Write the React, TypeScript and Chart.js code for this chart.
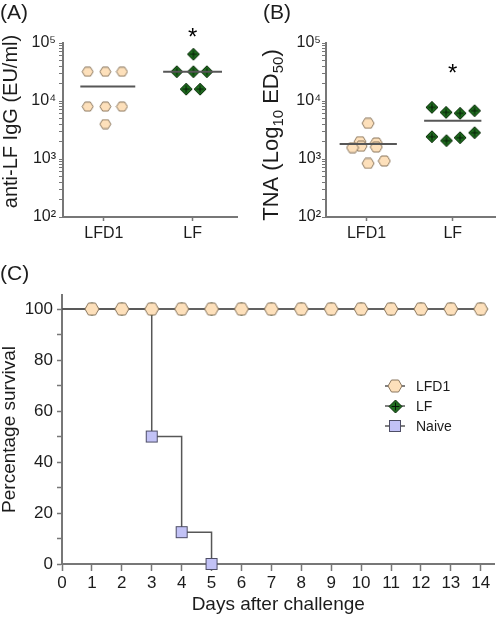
import { useEffect, useRef } from "react";
import { Chart, registerables } from "chart.js";

Chart.register(...registerables);

// ---------------- data ----------------
const groupLabels = ["LFD1", "LF"];
const groupPos = [1, 2];

// Panel A: anti-LF IgG (EU/ml)
const igLfd1X = [0.818, 1.017, 1.204, 0.818, 1.017, 1.204, 1.017];
const igLfd1Y = [32000, 32000, 32000, 8000, 8000, 8000, 4000];
const igLfX = [2.009, 1.822, 2.009, 2.16, 1.927, 2.084];
const igLfY = [64000, 32000, 32000, 32000, 16000, 16000];
const igMeans = [17700, 32000];
const igMeanSpan = [
  [0.735, 1.354],
  [1.668, 2.331],
];
const igStar = { x: 2, y: 160000 };

// Panel B: TNA (Log10 ED50)
const tnaLfd1X = [1.018, 0.925, 0.936, 0.838, 1.113, 1.113, 1.018, 1.206];
const tnaLfd1Y = [4130, 1990, 1660, 1570, 1890, 1610, 840, 925];
const tnaLfX = [1.758, 1.923, 2.085, 2.253, 1.758, 1.927, 2.085, 2.253];
const tnaLfY = [7780, 6380, 6140, 6800, 2420, 2070, 2330, 2840];
const tnaMeans = [1815, 4570];
const tnaMeanSpan = [
  [0.688, 1.352],
  [1.668, 2.332],
];
const tnaStar = { x: 2, y: 38500 };

const logDecades = [100, 1000, 10000, 100000];
const SUP: Record<number, string> = { 2: "\u00b2", 3: "\u00b3", 4: "\u2074", 5: "\u2075" };

// Panel C: survival
const days = [0, 1, 2, 3, 4, 5, 6, 7, 8, 9, 10, 11, 12, 13, 14];
const lfd1Survival = [100, 100, 100, 100, 100, 100, 100, 100, 100, 100, 100, 100, 100, 100, 100];
const lfSurvival = [100, 100, 100, 100, 100, 100, 100, 100, 100, 100, 100, 100, 100, 100, 100];
const naiveDays = [0, 3, 4, 5];
const naiveSurvival = [100, 50, 12.5, 0];
const survivalTicks = [0, 10, 20, 30, 40, 50, 60, 70, 80, 90, 100];
const seriesNames = ["LFD1", "LF", "Naive"];

// ---------------- styles ----------------
const FONT = "'Liberation Sans', Arial, Helvetica, sans-serif";
const TEXT = "#1c1c1c";
const AXIS = "#777777";
const LINE = "#575757";
const HEX_FILL = "#fde0bb";
const HEX_EDGE = "#8a775f";
const DIA_FILL = "#1f6d1f";
const DIA_EDGE = "#0b2b0b";
const SQ_FILL = "#c2c2f6";
const SQ_EDGE = "#4e4e66";

function hexMarker(w: number, h: number) {
  const c = document.createElement("canvas");
  c.width = w + 2;
  c.height = h + 2;
  const g = c.getContext("2d")!;
  const cx = c.width / 2,
    cy = c.height / 2;
  g.beginPath();
  g.moveTo(cx - w / 2, cy);
  g.lineTo(cx - w / 4, cy - h / 2);
  g.lineTo(cx + w / 4, cy - h / 2);
  g.lineTo(cx + w / 2, cy);
  g.lineTo(cx + w / 4, cy + h / 2);
  g.lineTo(cx - w / 4, cy + h / 2);
  g.closePath();
  g.fillStyle = HEX_FILL;
  g.fill();
  g.strokeStyle = HEX_EDGE;
  g.lineWidth = 1;
  g.stroke();
  return c;
}

function diamondMarker(s: number) {
  const c = document.createElement("canvas");
  c.width = s + 2;
  c.height = s + 2;
  const g = c.getContext("2d")!;
  const cx = c.width / 2,
    cy = c.height / 2;
  g.beginPath();
  g.moveTo(cx, cy - s / 2);
  g.lineTo(cx + s / 2, cy);
  g.lineTo(cx, cy + s / 2);
  g.lineTo(cx - s / 2, cy);
  g.closePath();
  g.fillStyle = DIA_FILL;
  g.fill();
  g.strokeStyle = DIA_EDGE;
  g.lineWidth = 1;
  g.stroke();
  g.beginPath();
  g.moveTo(cx - s * 0.3, cy);
  g.lineTo(cx + s * 0.3, cy);
  g.moveTo(cx, cy - s * 0.3);
  g.lineTo(cx, cy + s * 0.3);
  g.strokeStyle = "#061806";
  g.stroke();
  return c;
}

function squareMarker(s: number) {
  const c = document.createElement("canvas");
  c.width = s + 2;
  c.height = s + 2;
  const g = c.getContext("2d")!;
  g.fillStyle = SQ_FILL;
  g.fillRect(1, 1, s, s);
  g.strokeStyle = SQ_EDGE;
  g.lineWidth = 1;
  g.strokeRect(1.5, 1.5, s - 1, s - 1);
  return c;
}

type Part = [string, number, number];
function yTitlePlugin(id: string, parts: Part[], baseX: number, centerY: number) {
  return {
    id,
    afterDraw(chart: any) {
      const ctx = chart.ctx as CanvasRenderingContext2D;
      ctx.save();
      ctx.fillStyle = TEXT;
      ctx.textBaseline = "alphabetic";
      ctx.textAlign = "left";
      let total = 0;
      for (const [t, sz] of parts) {
        ctx.font = `${sz}px ${FONT}`;
        total += ctx.measureText(t).width;
      }
      ctx.translate(baseX, centerY);
      ctx.rotate(-Math.PI / 2);
      let x = -total / 2;
      for (const [t, sz, dy] of parts) {
        ctx.font = `${sz}px ${FONT}`;
        ctx.fillText(t, x, dy);
        x += ctx.measureText(t).width;
      }
      ctx.restore();
    },
  };
}

function starPlugin(id: string, star: { x: number; y: number }) {
  return {
    id,
    afterDatasetsDraw(chart: any) {
      const ctx = chart.ctx as CanvasRenderingContext2D;
      const px = chart.scales.x.getPixelForValue(star.x);
      const py = chart.scales.y.getPixelForValue(star.y);
      ctx.save();
      ctx.fillStyle = "#000";
      ctx.font = `24px ${FONT}`;
      ctx.textAlign = "center";
      ctx.textBaseline = "alphabetic";
      ctx.fillText("*", px, py + 14);
      ctx.restore();
    },
  };
}

function logTicks() {
  const out: { value: number; major: boolean }[] = [];
  for (let i = 0; i < logDecades.length; i++) {
    const d = logDecades[i];
    out.push({ value: d, major: true });
    if (i < logDecades.length - 1) {
      for (let m = 2; m <= 9; m++) out.push({ value: d * m, major: false });
    }
  }
  return out;
}

function dotPanelConfig(opts: {
  lfd1X: number[];
  lfd1Y: number[];
  lfX: number[];
  lfY: number[];
  means: number[];
  spans: number[][];
  xMin: number;
  xMax: number;
  yWidth: number;
  padRight: number;
  tickPad: number;
  hex: HTMLCanvasElement;
  dia: HTMLCanvasElement;
  plugins: any[];
}) {
  const meanSets = opts.means.map((m, i) => ({
    type: "line",
    data: [
      { x: opts.spans[i][0], y: m },
      { x: opts.spans[i][1], y: m },
    ],
    borderColor: LINE,
    borderWidth: 2,
    pointRadius: 0,
    showLine: true,
  }));
  return {
    type: "scatter",
    data: {
      datasets: [
        ...meanSets,
        {
          data: opts.lfX.map((x, i) => ({ x, y: opts.lfY[i] })),
          pointStyle: opts.dia,
          pointRadius: 6,
          showLine: false,
        },
        {
          data: opts.lfd1X.map((x, i) => ({ x, y: opts.lfd1Y[i] })),
          pointStyle: opts.hex,
          pointRadius: 5,
          showLine: false,
        },
      ],
    },
    options: {
      responsive: false,
      animation: false,
      events: [],
      layout: { padding: { top: 43, right: opts.padRight, left: 0, bottom: 0 } },
      plugins: { legend: { display: false }, tooltip: { enabled: false } },
      scales: {
        x: {
          type: "linear",
          min: opts.xMin,
          max: opts.xMax,
          afterBuildTicks: (s: any) => {
            s.ticks = groupPos.map((v) => ({ value: v }));
          },
          afterFit: (s: any) => {
            s.height = 33;
          },
          ticks: {
            callback: (v: any) => {
              const i = groupPos.indexOf(Number(v));
              return i >= 0 ? groupLabels[i] : "";
            },
            font: { family: FONT, size: 16 },
            color: TEXT,
            padding: 3,
            autoSkip: false,
            maxRotation: 0,
          },
          grid: { display: true, drawOnChartArea: false, drawTicks: true, tickLength: 4, color: AXIS, tickWidth: 1.5 },
          border: { display: true, color: AXIS, width: 2 },
        },
        y: {
          type: "logarithmic",
          min: 100,
          max: 100000,
          afterBuildTicks: (s: any) => {
            s.ticks = logTicks();
          },
          afterFit: (s: any) => {
            s.width = opts.yWidth;
          },
          ticks: {
            callback: (v: any) => {
              const e = Math.log10(Number(v));
              const r = Math.round(e);
              if (Math.abs(e - r) < 1e-6) return "10" + SUP[r];
              return "";
            },
            font: { family: FONT, size: 16 },
            color: TEXT,
            padding: opts.tickPad,
            autoSkip: false,
          },
          grid: { display: true, drawOnChartArea: false, drawTicks: true, tickLength: 4, color: AXIS, tickWidth: 1 },
          border: { display: true, color: AXIS, width: 2 },
        },
      },
    },
    plugins: opts.plugins,
  };
}

export default function App() {
  const refA = useRef<HTMLCanvasElement>(null);
  const refB = useRef<HTMLCanvasElement>(null);
  const refC = useRef<HTMLCanvasElement>(null);

  useEffect(() => {
    const charts: Chart[] = [];

    const hexA = hexMarker(11, 9);
    const diaA = diamondMarker(12);
    const hexB = hexMarker(12, 10);
    const diaB = diamondMarker(12);
    const hexC = hexMarker(14, 12);
    const diaC = diamondMarker(13);
    const sqC = squareMarker(12);

    if (refA.current) {
      charts.push(
        new Chart(
          refA.current,
          dotPanelConfig({
            lfd1X: igLfd1X,
            lfd1Y: igLfd1Y,
            lfX: igLfX,
            lfY: igLfY,
            means: igMeans,
            spans: igMeanSpan,
            xMin: 0.54,
            xMax: 2.5,
            yWidth: 63,
            padRight: 14,
            tickPad: 3,
            hex: hexA,
            dia: diaA,
            plugins: [
              starPlugin("starA", igStar),
              yTitlePlugin("titleA", [["anti-LF IgG (EU/ml)", 20, 0]], 17, 121.5),
            ],
          }) as any
        )
      );
    }

    if (refB.current) {
      charts.push(
        new Chart(
          refB.current,
          dotPanelConfig({
            lfd1X: tnaLfd1X,
            lfd1Y: tnaLfd1Y,
            lfX: tnaLfX,
            lfY: tnaLfY,
            means: tnaMeans,
            spans: tnaMeanSpan,
            xMin: 0.53,
            xMax: 2.49,
            yWidth: 75,
            padRight: 2,
            tickPad: 1,
            hex: hexB,
            dia: diaB,
            plugins: [
              starPlugin("starB", tnaStar),
              yTitlePlugin(
                "titleB",
                [
                  ["TNA (Log", 22, 0],
                  ["10", 15, 5],
                  [" ED", 22, 0],
                  ["50", 15, 5],
                  [")", 22, 0],
                ],
                27,
                135
              ),
            ],
          }) as any
        )
      );
    }

    if (refC.current) {
      const markers = [hexC, diaC, sqC];
      const legendPlugin = {
        id: "survLegend",
        afterDatasetsDraw(chart: any) {
          const ctx = chart.ctx as CanvasRenderingContext2D;
          const a = chart.chartArea;
          const mx = a.left + 333;
          ctx.save();
          seriesNames.forEach((name, i) => {
            const my = a.top + 91 + i * 20;
            ctx.strokeStyle = LINE;
            ctx.lineWidth = 1.5;
            ctx.beginPath();
            ctx.moveTo(mx - 10, my);
            ctx.lineTo(mx + 10, my);
            ctx.stroke();
            const m = markers[i];
            ctx.drawImage(m, Math.round(mx - m.width / 2), Math.round(my - m.height / 2));
            ctx.fillStyle = TEXT;
            ctx.font = `14px ${FONT}`;
            ctx.textAlign = "left";
            ctx.textBaseline = "middle";
            ctx.fillText(name, mx + 21, my + 1);
          });
          ctx.restore();
        },
      };

      charts.push(
        new Chart(refC.current, {
          type: "line",
          data: {
            datasets: [
              {
                label: seriesNames[0],
                data: days.map((d, i) => ({ x: d, y: lfd1Survival[i] })),
                borderColor: LINE,
                borderWidth: 1.5,
                pointStyle: hexC,
                pointRadius: days.map((d) => (d === 0 ? 0 : 6)),
                clip: false,
              },
              {
                label: seriesNames[1],
                data: days.map((d, i) => ({ x: d, y: lfSurvival[i] })),
                borderColor: LINE,
                borderWidth: 1.5,
                pointStyle: diaC,
                pointRadius: days.map((d) => (d === 0 ? 0 : 6)),
                clip: false,
              },
              {
                label: seriesNames[2],
                data: naiveDays.map((d, i) => ({ x: d, y: naiveSurvival[i] })),
                borderColor: LINE,
                borderWidth: 1.5,
                stepped: true,
                pointStyle: sqC,
                pointRadius: naiveDays.map((d) => (d === 0 ? 0 : 6)),
                clip: false,
              },
            ],
          },
          options: {
            responsive: false,
            animation: false,
            events: [],
            layout: { padding: { top: 15, right: 2, left: 0, bottom: 0 } },
            plugins: { legend: { display: false }, tooltip: { enabled: false } },
            scales: {
              x: {
                type: "linear",
                min: 0,
                max: 14.46,
                afterBuildTicks: (s: any) => {
                  s.ticks = days.map((v) => ({ value: v }));
                },
                afterFit: (s: any) => {
                  s.height = 53;
                },
                ticks: {
                  callback: (v: any) => String(v),
                  font: { family: FONT, size: 17 },
                  color: TEXT,
                  padding: 2,
                  autoSkip: false,
                  maxRotation: 0,
                },
                grid: { display: true, drawOnChartArea: false, drawTicks: true, tickLength: 7, color: AXIS, tickWidth: 1.5 },
                border: { display: true, color: AXIS, width: 2 },
                title: {
                  display: true,
                  text: "Days after challenge",
                  font: { family: FONT, size: 19, lineHeight: 1.2 },
                  color: TEXT,
                  padding: { top: 0, bottom: 1 },
                },
              },
              y: {
                type: "linear",
                min: 0,
                max: 105.5,
                afterBuildTicks: (s: any) => {
                  s.ticks = survivalTicks.map((v) => ({ value: v }));
                },
                afterFit: (s: any) => {
                  s.width = 62;
                },
                ticks: {
                  callback: (v: any) => (Number(v) % 20 === 0 ? String(v) : ""),
                  font: { family: FONT, size: 17 },
                  color: TEXT,
                  padding: 4,
                  autoSkip: false,
                },
                grid: { display: true, drawOnChartArea: false, drawTicks: true, tickLength: 5, color: AXIS, tickWidth: 1.5 },
                border: { display: true, color: AXIS, width: 2 },
                title: {
                  display: true,
                  text: "Percentage survival",
                  font: { family: FONT, size: 19, lineHeight: 1 },
                  color: TEXT,
                  padding: 0,
                },
              },
            },
          },
          plugins: [legendPlugin],
        } as any)
      );
    }

    return () => charts.forEach((c) => c.destroy());
  }, []);

  const panelLabel = (left: number, top: number): React.CSSProperties => ({
    position: "absolute",
    left,
    top,
    fontFamily: FONT,
    fontSize: 21,
    lineHeight: "24px",
    color: TEXT,
  });

  return (
    <div
      style={{
        position: "fixed",
        left: 0,
        top: 0,
        width: 502,
        height: 617,
        background: "#ffffff",
        overflow: "hidden",
      }}
    >
      <canvas ref={refA} width={251} height={250} style={{ position: "absolute", left: 0, top: 0 }} />
      <canvas ref={refB} width={251} height={250} style={{ position: "absolute", left: 251, top: 0 }} />
      <canvas ref={refC} width={502} height={337} style={{ position: "absolute", left: 0, top: 280 }} />
      <div style={panelLabel(0, 0)}>(A)</div>
      <div style={panelLabel(263, 0)}>(B)</div>
      <div style={panelLabel(0, 261)}>(C)</div>
    </div>
  );
}
